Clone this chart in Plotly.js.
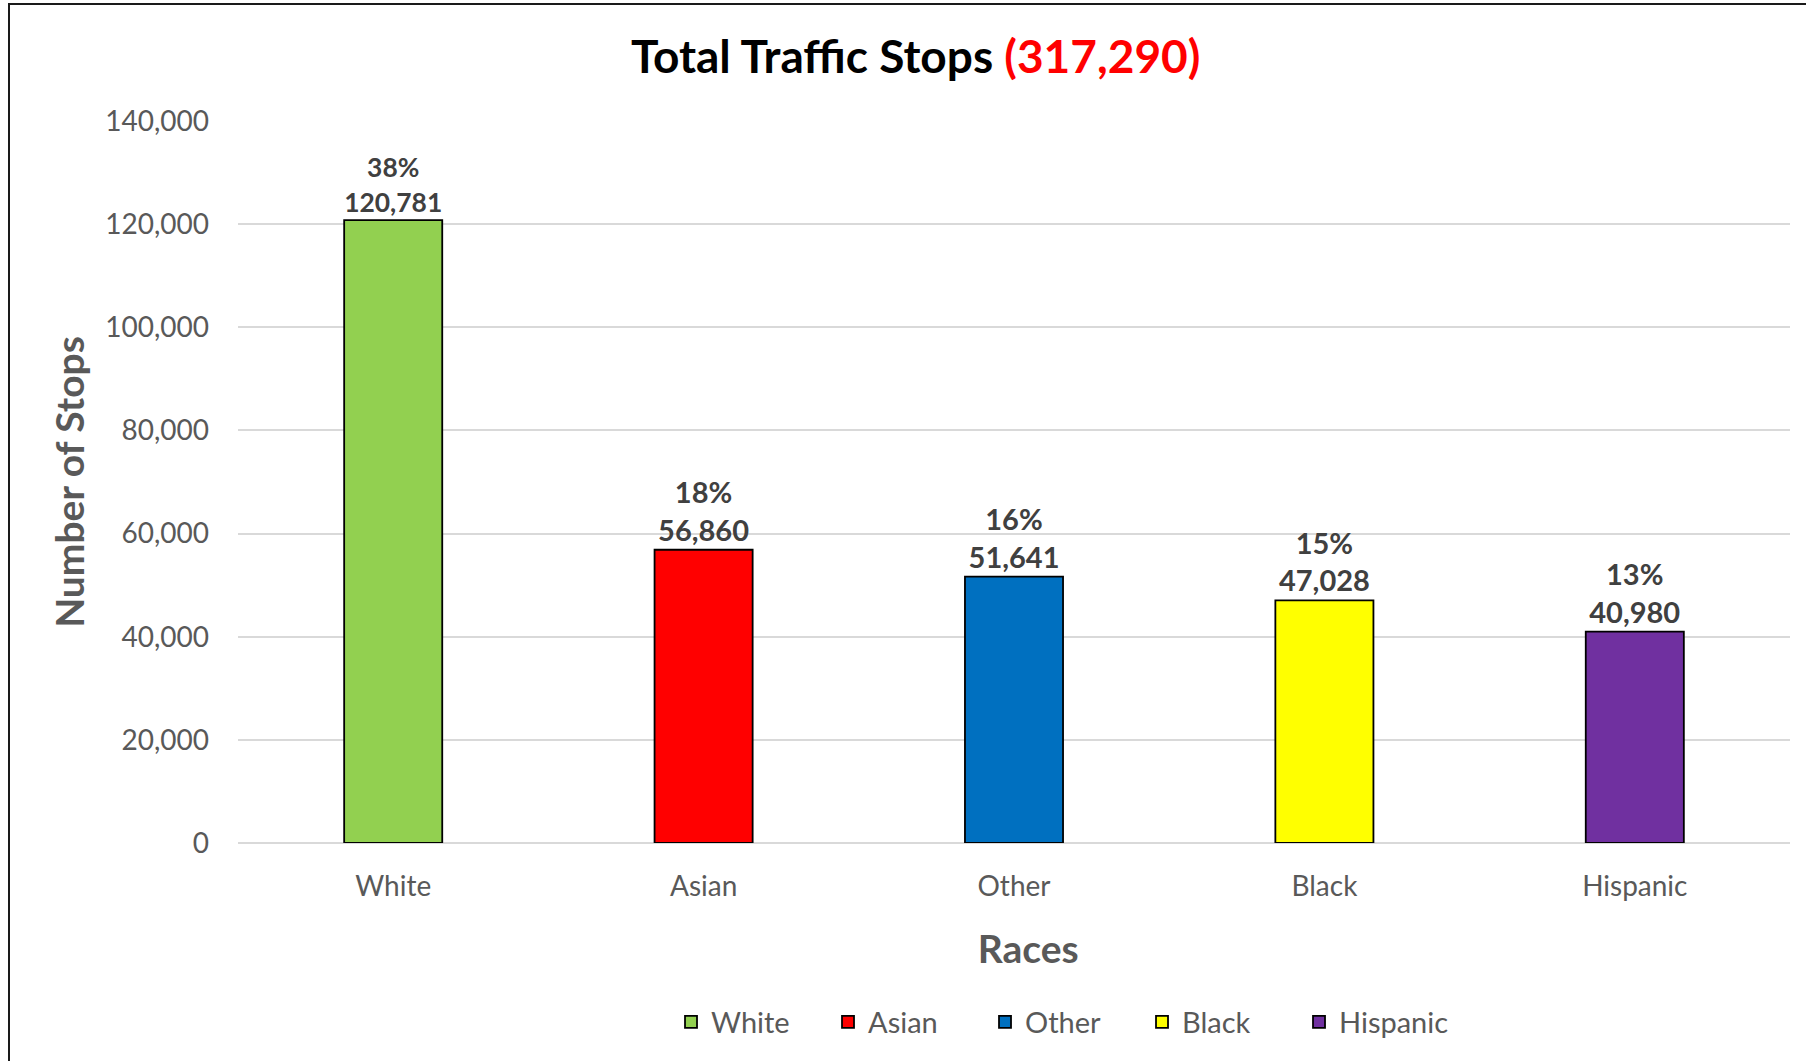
<!DOCTYPE html>
<html>
<head>
<meta charset="utf-8">
<script src="https://cdn.plot.ly/plotly-3.0.1.min.js"></script>
<style>
  html, body { margin: 0; padding: 0; background: #fff; }
  #wrap { position: relative; width: 1806px; height: 1061px; overflow: hidden; }
  #frame { position: absolute; left: 8px; top: 3px; right: -10px; bottom: -10px;
           border-left: 2px solid #1a1a1a; border-top: 2px solid #1a1a1a; pointer-events: none; z-index: 5; }
  #chart { position: absolute; left: 0; top: 0; width: 1806px; height: 1061px; }
</style>
</head>
<body>
<div id="wrap">
  <div id="chart"></div>
  <div id="frame"></div>
</div>
<script>
// ---- data ----
const races = ["White", "Asian", "Other", "Black", "Hispanic"];
const stops = [120781, 56860, 51641, 47028, 40980];
const shares = ["38%", "18%", "16%", "15%", "13%"];
const barColors = ["#92D050", "#FF0000", "#0070C0", "#FFFF00", "#7030A0"];
const totalLabel = "317,290";
const yTicks = [0, 20000, 40000, 60000, 80000, 100000, 120000, 140000];

const FONT = "Lato, 'Open Sans', sans-serif";
const fmt = v => v.toLocaleString("en-US");

const traces = races.map((r, i) => ({
  type: "bar",
  name: r,
  x: [r],
  y: [stops[i]],
  width: 0.316,
  marker: { color: barColors[i], line: { color: "#000000", width: 1.8 } },
  text: [shares[i] + "<br>" + fmt(stops[i])],
  textposition: "outside",
  cliponaxis: false,
  textfont: { family: FONT, size: 29, color: "#404040", weight: "bold" },
  hoverinfo: "x+y"
}));

const layout = {
  width: 1806,
  height: 1061,
  paper_bgcolor: "#ffffff",
  plot_bgcolor: "#ffffff",
  margin: { l: 238, r: 16, t: 121, b: 218 },
  barmode: "overlay",
  showlegend: true,
  title: {
    text: "<b>Total Traffic Stops <span style='color:#FF0000'>(" + totalLabel + ")</span></b>",
    font: { family: FONT, size: 46, color: "#000000" },
    x: 0.507, xref: "container", xanchor: "center",
    y: 0.946, yref: "container", yanchor: "middle"
  },
  xaxis: {
    type: "category",
    categoryorder: "array",
    categoryarray: races,
    showgrid: false,
    showline: false,
    zeroline: false,
    ticks: "",
    tickfont: { family: FONT, size: 28, color: "#595959" },
    ticklabelstandoff: 24,
    title: {
      text: "<b>&nbsp;&nbsp;&nbsp;Races</b>",
      font: { family: FONT, size: 39, color: "#595959" },
      standoff: 34
    }
  },
  yaxis: {
    range: [0, 140000],
    tickvals: yTicks,
    ticktext: yTicks.map(fmt),
    showgrid: true,
    gridcolor: "#D9D9D9",
    gridwidth: 1.5,
    zeroline: true,
    zerolinecolor: "#D9D9D9",
    zerolinewidth: 2,
    showline: false,
    ticks: "",
    tickfont: { family: FONT, size: 28, color: "#595959" },
    ticklabelstandoff: 28,
    title: {
      text: "<b>Number of Stops</b>",
      font: { family: FONT, size: 39, color: "#595959" },
      standoff: 8
    }
  },
  legend: {
    orientation: "h",
    x: 0.279, xanchor: "left",
    y: -0.248, yanchor: "middle",
    entrywidth: 112,
    font: { family: FONT, size: 29, color: "#595959" },
    itemclick: false,
    itemdoubleclick: false,
    traceorder: "normal"
  },
  bargap: 0.68
};

Plotly.newPlot("chart", traces, layout, { displayModeBar: false, responsive: false });
</script>
</body>
</html>
